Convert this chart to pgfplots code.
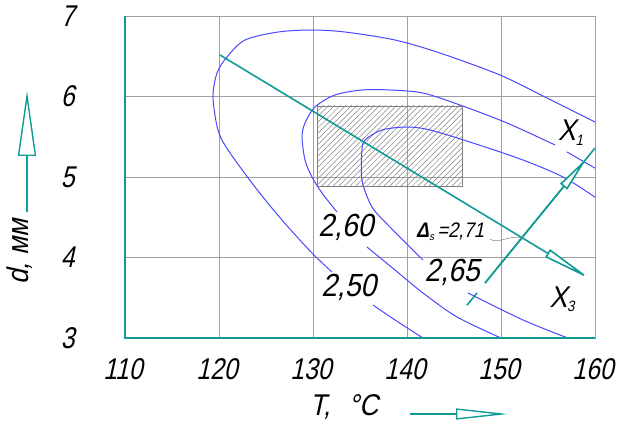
\documentclass[border=0pt]{standalone}
\usepackage{pgfplots}
\pgfplotsset{compat=1.18}
\usepackage{fontspec}
\setmainfont{Liberation Sans}[FakeSlant=0.22, FakeStretch=0.88]
\newfontfamily\tickfont{Liberation Sans}[FakeSlant=0.22, FakeStretch=0.82]
\usetikzlibrary{patterns.meta,arrows.meta}
\definecolor{tealc}{RGB}{18,155,149}
\definecolor{bluec}{RGB}{72,72,255}
\definecolor{gridc}{RGB}{160,160,160}
\newcommand\fs[1]{\fontsize{#1bp}{#1bp}\selectfont}
\begin{document}
\begin{tikzpicture}
\useasboundingbox (-125bp,-85bp) rectangle (495bp,338bp);
\begin{axis}[
  at={(0,0)}, anchor=south west,
  width=470bp, height=322bp, scale only axis,
  xmin=110, xmax=160, ymin=3, ymax=7,
  xtick={110,120,...,160}, ytick={3,4,...,7},
  grid=major, grid style={gridc, line width=0.8bp},
  axis line style={gridc, line width=0.8bp},
  major tick length=0pt,
  /pgf/number format/assume math mode=true,
  ticklabel style={font=\tickfont\fs{30}},
  yticklabel style={xshift=-47bp},
  xticklabel style={yshift=-17bp, xshift=-2bp},
  clip mode=individual,
]
% hatched rectangle
\addplot[draw=gray, line width=0.6bp, pattern={Lines[angle=45,distance=4bp,line width=0.5bp]}, pattern color=gray]
  coordinates {(130.43,4.888) (145.85,4.888) (145.85,5.882) (130.43,5.882)} -- cycle;
% contour 2,50
\addplot[bluec, line width=1bp, smooth] coordinates {
(132.02,3.820) (129.89,4.056) (126.70,4.466) (123.83,4.876) (120.96,5.335) (119.89,5.584)
(119.36,5.994) (119.79,6.292) (120.85,6.491) (122.77,6.702) (126.28,6.801) (129.89,6.826)
(133.40,6.801) (138.72,6.702) (143.51,6.540) (149.89,6.267) (154.89,5.981) (160.00,5.683)};
\addplot[bluec, line width=1bp, smooth] coordinates {(136.38,3.410) (138.72,3.224) (141.70,3.0)};
% contour 2,60
\addplot[bluec, line width=1bp, smooth] coordinates {
(132.55,4.565) (130.96,4.801) (129.89,5.000) (129.15,5.211) (128.83,5.497) (129.15,5.671)
(130.21,5.870) (132.34,6.019) (135.21,6.081) (138.19,6.081) (141.70,6.043) (145.64,5.894)
(150.64,5.671) (155.74,5.398)};
\addplot[bluec, line width=1bp, smooth] coordinates {(157.02,5.311) (160.0,5.11)};
\addplot[bluec, line width=1bp, smooth] coordinates {
(135.74,4.130) (138.72,3.845) (141.70,3.559) (145.32,3.261) (150.0,3.0)};
% contour 2,65
\addplot[bluec, line width=1bp, smooth] coordinates {
(141.70,3.969) (138.19,4.379) (136.28,4.627) (135.21,4.963) (135.21,5.335) (135.53,5.460)
(137.34,5.584) (140.00,5.621) (142.45,5.584) (147.02,5.422) (152.34,5.211) (156.60,5.000)
(160.0,4.75)};
\addplot[bluec, line width=1bp, smooth] coordinates {(146.49,3.559) (152.34,3.224) (157.1,3.0)};
% X3 line
\addplot[tealc, line width=1.6bp, -{Triangle[open, length=52bp, width=9bp, fill=white]}]
  coordinates {(120.1,6.516) (159.68,3.72)};
% X1 line
\addplot[tealc, line width=1.6bp] coordinates {(146.38,3.408) (147.45,3.559)};
\addplot[tealc, line width=1.6bp] coordinates {(148.30,3.683) (160.0,5.36)};
\addplot[tealc, line width=1.6bp, -{Triangle[open, length=37bp, width=9bp, fill=white]}]
  coordinates {(148.30,3.683) (159.15,5.236)};
% teal axis lines
\draw[tealc, line width=2bp] (rel axis cs:0,1) -- (rel axis cs:0,0) -- (rel axis cs:1,0);
% leader
\draw[gray, line width=0.5bp] (axis cs:148.8,4.23) .. controls (axis cs:149.7,4.16) and (axis cs:150.8,4.28) .. (axis cs:152.23,4.246);
% labels
\node[font=\fs{32}] at (axis cs:133.5,4.37) {2,60};
\node[font=\fs{32}] at (axis cs:133.8,3.63) {2,50};
\node[font=\fs{32}] at (axis cs:144.8,3.81) {2,65};
\node[font=\fs{21}] at (axis cs:144.57,4.32) {{\bfseries Δ}\raisebox{-0.25ex}{\fs{11}s}\,=2,71};
\node[font=\fs{30}, inner sep=0pt] at (axis cs:157.4,5.55) {X\raisebox{-0.3ex}{\fs{15}1}};
\node[font=\fs{30}, inner sep=0pt] at (axis cs:156.5,3.48) {X\raisebox{-0.3ex}{\fs{15}3}};
\end{axis}
% axis titles
\node[font=\fs{30}, rotate=90] at (-105bp,86bp) {d, мм};
\node[font=\fs{30}] at (219bp,-69bp) {T,\hspace{0.6em}°C};
\draw[tealc, line width=1.4bp, -{Triangle[open, length=65bp, width=18bp]}] (-98bp,126bp) -- (-98bp,247bp);
\draw[tealc, line width=1.4bp, -{Triangle[open, length=52bp, width=11bp]}] (285bp,-76bp) -- (383bp,-76bp);
\end{tikzpicture}
\end{document}
